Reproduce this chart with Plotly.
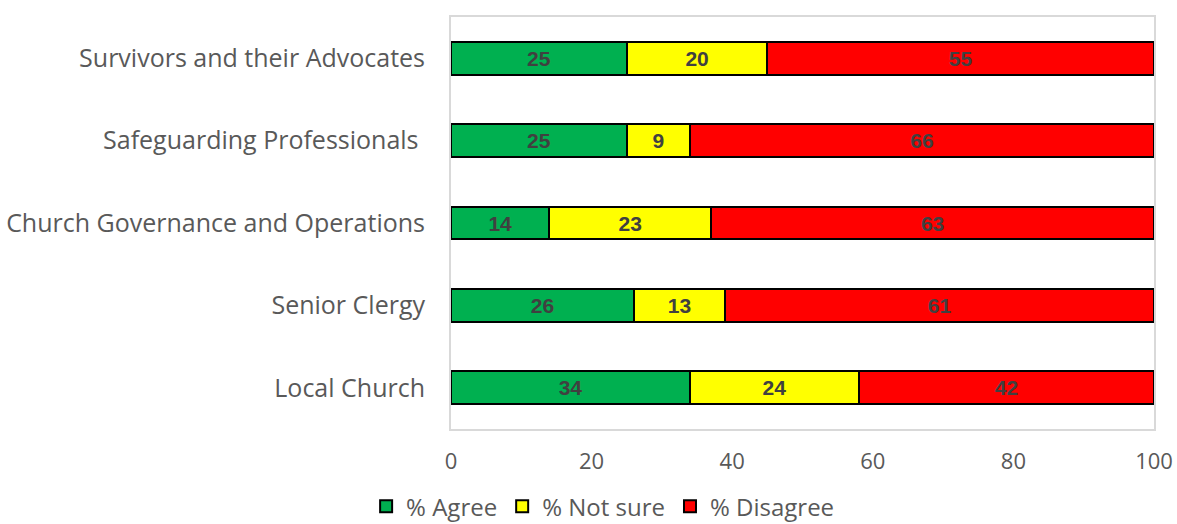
import plotly.graph_objects as go

# Survey groups, bottom to top as drawn on the y axis
groups = [
    "Local Church",
    "Senior Clergy",
    "Church Governance and Operations",
    "Safeguarding Professionals\u00a0",
    "Survivors and their Advocates",
]
agree = [34, 26, 14, 25, 25]
not_sure = [24, 13, 23, 9, 20]
disagree = [42, 61, 63, 66, 55]

series = [
    ("% Agree", agree, "#00B050"),
    ("% Not sure", not_sure, "#FFFF00"),
    ("% Disagree", disagree, "#FF0000"),
]

AXIS_FONT = "Open Sans, sans-serif"

fig = go.Figure()
for name, vals, color in series:
    fig.add_trace(go.Bar(
        y=groups,
        x=vals,
        name=name,
        orientation="h",
        marker=dict(color=color, line=dict(color="#000000", width=2)),
        text=vals,
        texttemplate="<b>%{text}</b>",
        textposition="inside",
        insidetextanchor="middle",
        textangle=0,
        textfont=dict(family="Liberation Sans, Arial, sans-serif", size=21, color="#404040"),
        width=0.4,
    ))

fig.update_layout(
    barmode="stack",
    width=1177,
    height=524,
    margin=dict(l=451, r=23, t=17, b=95, autoexpand=False),
    paper_bgcolor="#FFFFFF",
    plot_bgcolor="#FFFFFF",
    font=dict(family=AXIS_FONT, color="#595959"),
    uniformtext=dict(mode=False),
    legend=dict(
        orientation="h",
        x=0.512,
        xref="container",
        xanchor="center",
        y=0.033,
        yref="container",
        yanchor="middle",
        font=dict(size=24, color="#595959"),
        traceorder="normal",
        itemwidth=30,
    ),
    showlegend=True,
)

fig.update_xaxes(
    range=[0, 100],
    tickvals=[0, 20, 40, 60, 80, 100],
    showgrid=False,
    zeroline=False,
    showline=True,
    linecolor="#D9D9D9",
    linewidth=2,
    mirror=True,
    automargin=False,
    tickfont=dict(size=22, color="#595959"),
    ticklabelstandoff=12,
)
fig.update_yaxes(
    range=[-0.5, 4.5],
    showgrid=False,
    zeroline=False,
    showline=True,
    linecolor="#D9D9D9",
    linewidth=2,
    mirror=True,
    automargin=False,
    tickfont=dict(size=25, color="#595959"),
    ticklabelstandoff=19,
)

fig.write_html("out.html")
